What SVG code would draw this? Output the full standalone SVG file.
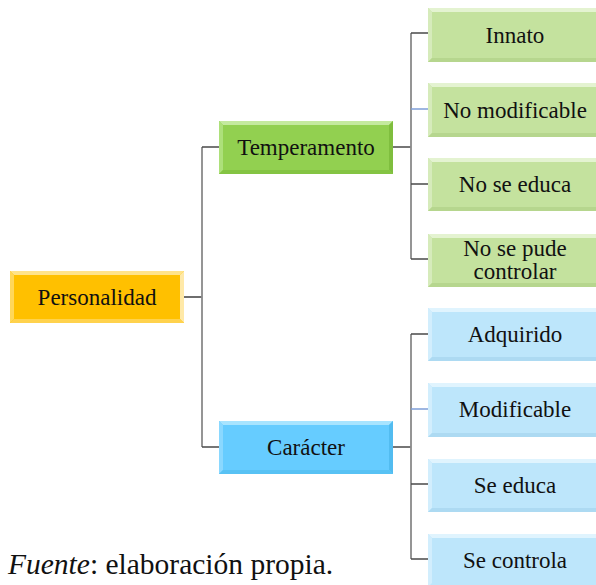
<svg xmlns="http://www.w3.org/2000/svg" width="596" height="585" viewBox="0 0 596 585" font-family="Liberation Serif, serif">
<style>
  .nt { font-family: 'Liberation Serif', serif; font-size: 23px; text-anchor: middle; fill: #111; }
  .sf { font-family: 'Liberation Serif', serif !important; }
  .ln { stroke: #4a4a4a; stroke-width: 1.6; fill: none; }
  .vl { stroke: #8a8a8a; stroke-width: 1.8; fill: none; }
  .bl { stroke: #7f9fd8; stroke-width: 1.4; fill: none; }
  .foot { font-family: 'Liberation Serif', serif; font-size: 29.5px; fill: #111; }
</style>
<g id="connectors">
  <path class="ln" d="M184 297 H202"/>
  <path class="vl" d="M202 147 V447"/>
  <path class="ln" d="M202 147 H219 M202 447 H219"/>
  <path class="ln" d="M393 147 H411 M393 447 H411"/>
  <path class="vl" d="M411 33 V259 M411 334 V559"/>
  <path class="ln" d="M411 33 H428 M411 184 H428 M411 259 H428"/>
  <path class="bl" d="M411 109 H428 M411 409 H428"/>
  <path class="ln" d="M411 334 H428 M411 484 H428 M411 559 H428"/>
</g>
<g id="personalidad">
  <rect x="10" y="271" width="174" height="52" fill="#FFC000"/>
  <path d="M10 271 H184 L180 275 H14 Z" fill="#FFE38A"/>
  <path d="M10 271 V323 L14 319 V275 Z" fill="#FFD75A"/>
  <path d="M184 271 V323 L180 319 V275 Z" fill="#FFE9A8"/>
  <path d="M10 323 H184 L180 319 H14 Z" fill="#FFD24D"/>
  <text class="nt" x="97" y="305"><tspan class="sf" font-family="Liberation Serif, serif">Personalidad</tspan></text>
</g>
<g id="temperamento">
  <rect x="219" y="121" width="174" height="53" fill="#92D050"/>
  <path d="M219 121 H393 L389 125 H223 Z" fill="#C4EA9E"/>
  <path d="M219 121 V174 L223 170 V125 Z" fill="#ADE07A"/>
  <path d="M393 121 V174 L389 170 V125 Z" fill="#7FBE3E"/>
  <path d="M219 174 H393 L389 170 H223 Z" fill="#84C443"/>
  <text class="nt" x="306" y="155"><tspan class="sf" font-family="Liberation Serif, serif">Temperamento</tspan></text>
</g>
<g id="caracter">
  <rect x="219" y="421" width="174" height="53" fill="#66CCFF"/>
  <path d="M219 421 H393 L389 425 H223 Z" fill="#A8E4FF"/>
  <path d="M219 421 V474 L223 470 V425 Z" fill="#8AD8FF"/>
  <path d="M393 421 V474 L389 470 V425 Z" fill="#52BCF0"/>
  <path d="M219 474 H393 L389 470 H223 Z" fill="#58C2F4"/>
  <text class="nt" x="306" y="455"><tspan class="sf" font-family="Liberation Serif, serif">Carácter</tspan></text>
</g>
<g id="innato">
  <rect x="428" y="8" width="174" height="54" fill="#C4E29E"/>
  <path d="M428 8 H602 L598 12 H432 Z" fill="#E4F3D1"/>
  <path d="M428 8 V62 L432 58 V12 Z" fill="#D6EBBB"/>
  <path d="M428 62 H602 L598 58 H432 Z" fill="#B6D68E"/>
  <text class="nt" x="515" y="43"><tspan class="sf" font-family="Liberation Serif, serif">Innato</tspan></text>
</g>
<g id="no-modificable">
  <rect x="428" y="83" width="174" height="54" fill="#C4E29E"/>
  <path d="M428 83 H602 L598 87 H432 Z" fill="#E4F3D1"/>
  <path d="M428 83 V137 L432 133 V87 Z" fill="#D6EBBB"/>
  <path d="M428 137 H602 L598 133 H432 Z" fill="#B6D68E"/>
  <text class="nt" x="515" y="118"><tspan class="sf" font-family="Liberation Serif, serif">No modificable</tspan></text>
</g>
<g id="no-se-educa">
  <rect x="428" y="158" width="174" height="53" fill="#C4E29E"/>
  <path d="M428 158 H602 L598 162 H432 Z" fill="#E4F3D1"/>
  <path d="M428 158 V211 L432 207 V162 Z" fill="#D6EBBB"/>
  <path d="M428 211 H602 L598 207 H432 Z" fill="#B6D68E"/>
  <text class="nt" x="515" y="192"><tspan class="sf" font-family="Liberation Serif, serif">No se educa</tspan></text>
</g>
<g id="no-se-pude-controlar">
  <rect x="428" y="234" width="174" height="53" fill="#C4E29E"/>
  <path d="M428 234 H602 L598 238 H432 Z" fill="#E4F3D1"/>
  <path d="M428 234 V287 L432 283 V238 Z" fill="#D6EBBB"/>
  <path d="M428 287 H602 L598 283 H432 Z" fill="#B6D68E"/>
  <text class="nt" x="515" y="256"><tspan class="sf" font-family="Liberation Serif, serif">No se pude</tspan></text>
  <text class="nt" x="515" y="279"><tspan class="sf" font-family="Liberation Serif, serif">controlar</tspan></text>
</g>
<g id="adquirido">
  <rect x="428" y="308" width="174" height="53" fill="#BDE6FB"/>
  <path d="M428 308 H602 L598 312 H432 Z" fill="#E0F4FE"/>
  <path d="M428 308 V361 L432 357 V312 Z" fill="#D2EEFD"/>
  <path d="M428 361 H602 L598 357 H432 Z" fill="#ADDAF2"/>
  <text class="nt" x="515" y="342"><tspan class="sf" font-family="Liberation Serif, serif">Adquirido</tspan></text>
</g>
<g id="modificable">
  <rect x="428" y="383" width="174" height="54" fill="#BDE6FB"/>
  <path d="M428 383 H602 L598 387 H432 Z" fill="#E0F4FE"/>
  <path d="M428 383 V437 L432 433 V387 Z" fill="#D2EEFD"/>
  <path d="M428 437 H602 L598 433 H432 Z" fill="#ADDAF2"/>
  <text class="nt" x="515" y="417"><tspan class="sf" font-family="Liberation Serif, serif">Modificable</tspan></text>
</g>
<g id="se-educa">
  <rect x="428" y="459" width="174" height="53" fill="#BDE6FB"/>
  <path d="M428 459 H602 L598 463 H432 Z" fill="#E0F4FE"/>
  <path d="M428 459 V512 L432 508 V463 Z" fill="#D2EEFD"/>
  <path d="M428 512 H602 L598 508 H432 Z" fill="#ADDAF2"/>
  <text class="nt" x="515" y="493"><tspan class="sf" font-family="Liberation Serif, serif">Se educa</tspan></text>
</g>
<g id="se-controla">
  <rect x="428" y="534" width="174" height="53" fill="#BDE6FB"/>
  <path d="M428 534 H602 L598 538 H432 Z" fill="#E0F4FE"/>
  <path d="M428 534 V587 L432 583 V538 Z" fill="#D2EEFD"/>
  <text class="nt" x="515" y="568"><tspan class="sf" font-family="Liberation Serif, serif">Se controla</tspan></text>
</g>
<text class="foot" x="8" y="574"><tspan font-style="italic">Fuente</tspan>: elaboración propia.</text>
</svg>
